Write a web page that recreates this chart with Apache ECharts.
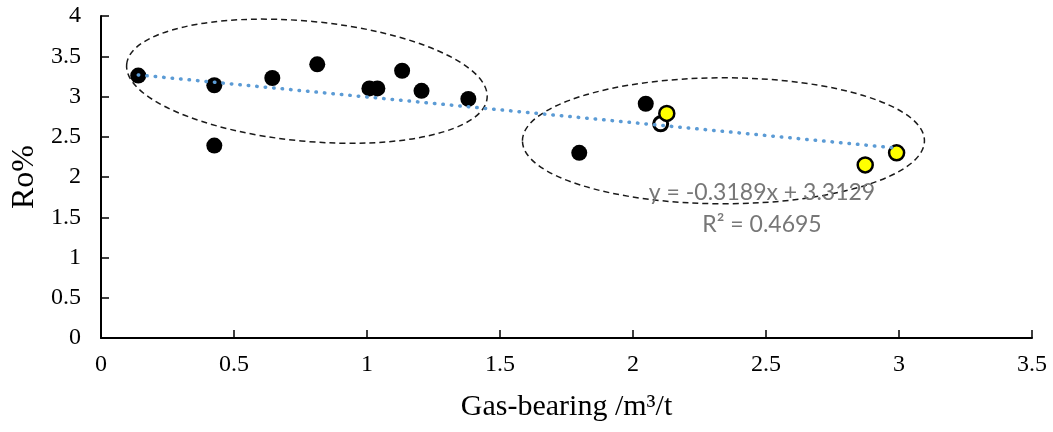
<!DOCTYPE html>
<html>
<head>
<meta charset="utf-8">
<script src="https://cdn.jsdelivr.net/npm/echarts@6/dist/echarts.min.js"></script>
<style>
  html, body { margin: 0; padding: 0; background: #fff; }
  #main { width: 1053px; height: 432px; }
</style>
</head>
<body>
<div id="main"></div>
<script>
// black samples
var blackX = [0.14, 0.426, 0.426, 0.644, 0.813, 1.009, 1.039, 1.132, 1.205, 1.381, 1.798, 2.048];
var blackY = [3.26, 3.14, 2.39, 3.23, 3.40, 3.10, 3.10, 3.32, 3.07, 2.97, 2.30, 2.91];
// the hollow one sitting on the trend line
var ringX = [2.104];
var ringY = [2.66];
// yellow samples
var yellowX = [2.127, 2.873, 2.991];
var yellowY = [2.79, 2.15, 2.30];

// trend line as printed on the chart
var slope = -0.3189;
var intercept = 3.3129;
var r2 = 0.4695;

var xTicks = [0, 0.5, 1, 1.5, 2, 2.5, 3, 3.5];
var yTicks = [0, 0.5, 1, 1.5, 2, 2.5, 3, 3.5, 4];

function pairs(xs, ys) {
    return xs.map(function (x, i) { return [x, ys[i]]; });
}

var allX = blackX.concat(ringX, yellowX);
var xMin = Math.min.apply(null, allX);
var xMax = Math.max.apply(null, allX);
var trend = [[xMin, slope * xMin + intercept], [xMax, slope * xMax + intercept]];

var serif = '"Liberation Serif", "Times New Roman", serif';

var chart = echarts.init(document.getElementById('main'));
var axisLine = { show: true, lineStyle: { color: '#000', width: 2 } };
var axisTick = { show: true, inside: true, length: 8, lineStyle: { color: '#000', width: 1.5 } };

chart.setOption({
    backgroundColor: '#fff',
    animation: false,
    grid: { left: 101, right: 21, top: 16, bottom: 94 },
    xAxis: {
        type: 'value',
        min: xTicks[0],
        max: xTicks[xTicks.length - 1],
        interval: 0.5,
        name: 'Gas-bearing /m³/t',
        nameLocation: 'middle',
        nameGap: 54,
        nameTextStyle: { fontFamily: serif, fontSize: 30, color: '#000' },
        axisLine: axisLine,
        axisTick: axisTick,
        splitLine: { show: false },
        axisLabel: { fontFamily: serif, fontSize: 24, color: '#000', margin: 15 }
    },
    yAxis: {
        type: 'value',
        min: yTicks[0],
        max: yTicks[yTicks.length - 1],
        interval: 0.5,
        name: 'Ro%',
        nameLocation: 'middle',
        nameRotate: 90,
        nameGap: 60,
        nameTextStyle: { fontFamily: serif, fontSize: 32, color: '#000' },
        axisLine: axisLine,
        axisTick: axisTick,
        splitLine: { show: false },
        axisLabel: { fontFamily: serif, fontSize: 24, color: '#000', margin: 20 }
    },
    series: [
        {
            type: 'scatter',
            data: pairs(blackX, blackY),
            symbolSize: 16,
            itemStyle: { color: '#000', opacity: 1 },
            z: 2
        },
        {
            type: 'scatter',
            data: pairs(ringX, ringY),
            symbolSize: 14,
            itemStyle: { color: '#fff', borderColor: '#000', borderWidth: 3, opacity: 1 },
            z: 2
        },
        {
            type: 'scatter',
            data: pairs(yellowX, yellowY),
            symbolSize: 15,
            itemStyle: { color: '#ffff00', borderColor: '#000', borderWidth: 2.5, opacity: 1 },
            z: 3
        },
        {
            type: 'line',
            data: trend,
            symbol: 'none',
            silent: true,
            lineStyle: { color: '#5b9bd5', width: 3.5, type: [0.5, 8], cap: 'round' },
            z: 5
        }
    ]
});

// dashed groupings and the equation label, placed from data coordinates
function px(x, y) { return chart.convertToPixel({ gridIndex: 0 }, [x, y]); }
var leftC = px(0.774, 3.19);
var rightC = px(2.34, 2.45);
var label = px(2.485, 1.81);
var dash = { stroke: '#1a1a1a', lineWidth: 1.5, lineDash: [6, 4], fill: 'none' };
var eqFont = '23px Lato, "Liberation Sans", sans-serif';

chart.setOption({
    graphic: [
        {
            type: 'ellipse',
            shape: { cx: 0, cy: 0, rx: 181, ry: 60 },
            x: leftC[0], y: leftC[1],
            rotation: -5.35 * Math.PI / 180,
            style: dash,
            z: 1
        },
        {
            type: 'ellipse',
            shape: { cx: 0, cy: 0, rx: 201, ry: 63 },
            x: rightC[0], y: rightC[1],
            style: dash,
            z: 1
        },
        {
            type: 'text',
            x: label[0], y: label[1],
            style: {
                text: 'y = ' + slope + 'x + ' + intercept,
                font: eqFont,
                fill: '#777',
                align: 'center',
                verticalAlign: 'middle'
            },
            z: 6
        },
        {
            type: 'text',
            x: label[0], y: label[1] + 32,
            style: {
                text: 'R² = ' + r2,
                font: eqFont,
                fill: '#777',
                align: 'center',
                verticalAlign: 'middle'
            },
            z: 6
        }
    ]
});
</script>
</body>
</html>
